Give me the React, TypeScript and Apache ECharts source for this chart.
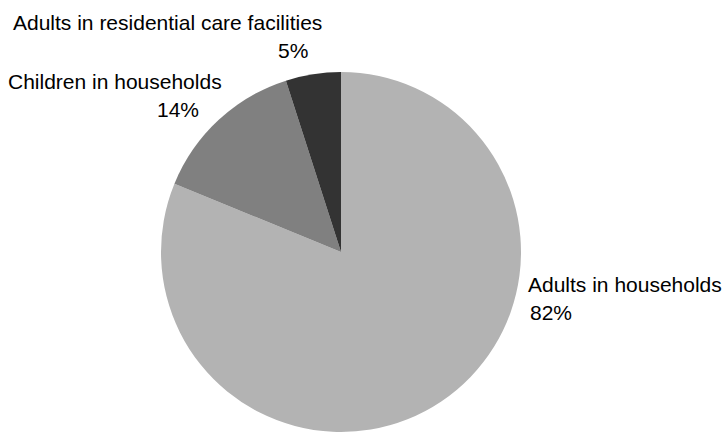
import React, { useEffect, useRef } from "react";
import * as echarts from "echarts";

const categories = ["Adults in households", "Children in households", "Adults in residential care facilities"];
const values = [82, 14, 5];
const colors = ["#b3b3b3", "#808080", "#333333"];

// label block positions (top-left) and the offset of the percent line
const labelPos = [
  { x: 528, y: 270, off: 2 },
  { x: 8, y: 67, off: 149 },
  { x: 13, y: 8, off: 265 },
];

export default function App() {
  const ref = useRef<HTMLDivElement>(null);
  useEffect(() => {
    if (!ref.current) return;
    const chart = echarts.init(ref.current, null, { renderer: "svg" });
    chart.setOption({
      animation: false,
      backgroundColor: "#ffffff",
      series: [
        {
          type: "pie",
          center: [341, 252],
          radius: 180,
          startAngle: 90,
          clockwise: true,
          avoidLabelOverlap: false,
          labelLine: { show: false },
          itemStyle: { borderWidth: 0 },
          emphasis: { disabled: true },
          data: categories.map((name, i) => ({
            name,
            value: values[i],
            itemStyle: { color: colors[i] },
            label: {
              show: true,
              position: "outside",
              formatter: "{n|{b}}\n{p|{c}%}",
              rich: {
                n: {
                  fontFamily: "Liberation Sans, Arial, sans-serif",
                  fontSize: 21,
                  color: "#000",
                  lineHeight: 28,
                },
                p: {
                  fontFamily: "Liberation Sans, Arial, sans-serif",
                  fontSize: 21,
                  color: "#000",
                  lineHeight: 28,
                  padding: [0, 0, 0, labelPos[i].off],
                },
              },
            },
          })),
          labelLayout: (params: any) => {
            const p = labelPos[params.dataIndex];
            return { x: p.x, y: p.y, align: "left", verticalAlign: "top" };
          },
        },
      ],
    });
    return () => chart.dispose();
  }, []);
  return (
    <div
      ref={ref}
      style={{ position: "fixed", left: 0, top: 0, width: 723, height: 433 }}
    />
  );
}
